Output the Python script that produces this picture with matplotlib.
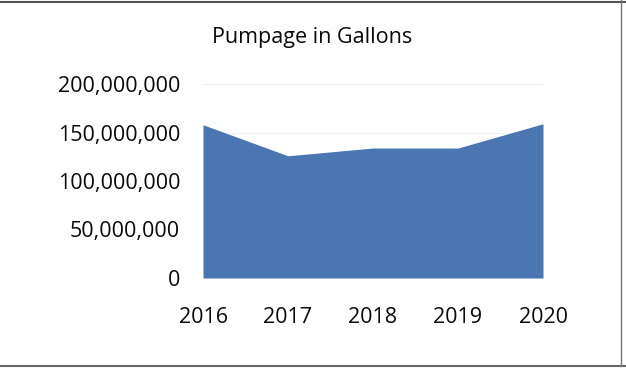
import matplotlib
matplotlib.use("Agg")
import matplotlib.pyplot as plt
from matplotlib.ticker import FuncFormatter

years = [2016, 2017, 2018, 2019, 2020]
gallons = [158_000_000, 126_000_000, 134_000_000, 134_000_000, 159_000_000]
yticks = [0, 50_000_000, 100_000_000, 150_000_000, 200_000_000]
title = "Pumpage in Gallons"

plt.rcParams['font.family'] = ['Open Sans', 'DejaVu Sans']

fig = plt.figure(figsize=(6.26, 3.71), dpi=100)
ax = fig.add_axes([203/626, 1-278/371, 340/626, (278-84)/371])

ax.fill_between(years, gallons, 0, color="#4a76b2", linewidth=0)
ax.set_xlim(years[0], years[-1])
ax.set_ylim(0, 200_000_000)
ax.set_yticks(yticks)
ax.set_xticks(years)
ax.yaxis.set_major_formatter(FuncFormatter(lambda v, p: f"{int(v):,}"))
ax.grid(axis='y', color="#f0f0f0", linewidth=0.8)
ax.set_axisbelow(True)
for s in ax.spines.values():
    s.set_visible(False)
ax.tick_params(axis='both', length=0, labelsize=15.5, colors="#0a0a0a")
ax.tick_params(axis='y', pad=16.5)
ax.tick_params(axis='x', pad=21)

fig.text(312/626, 1-37/371, title, ha='center', va='center', fontsize=15.5, color="#0a0a0a")

# scanned frame edges
fig.add_artist(plt.Line2D([0, 1], [0.995, 0.995], color="#555555", linewidth=1.5, transform=fig.transFigure))
fig.add_artist(plt.Line2D([0, 1], [1-366/371, 1-366/371], color="#666666", linewidth=1.5, transform=fig.transFigure))
fig.add_artist(plt.Line2D([621/626, 621/626], [1-366/371, 1], color="#777777", linewidth=1.0, transform=fig.transFigure))

fig.savefig("out.png", dpi=100)
